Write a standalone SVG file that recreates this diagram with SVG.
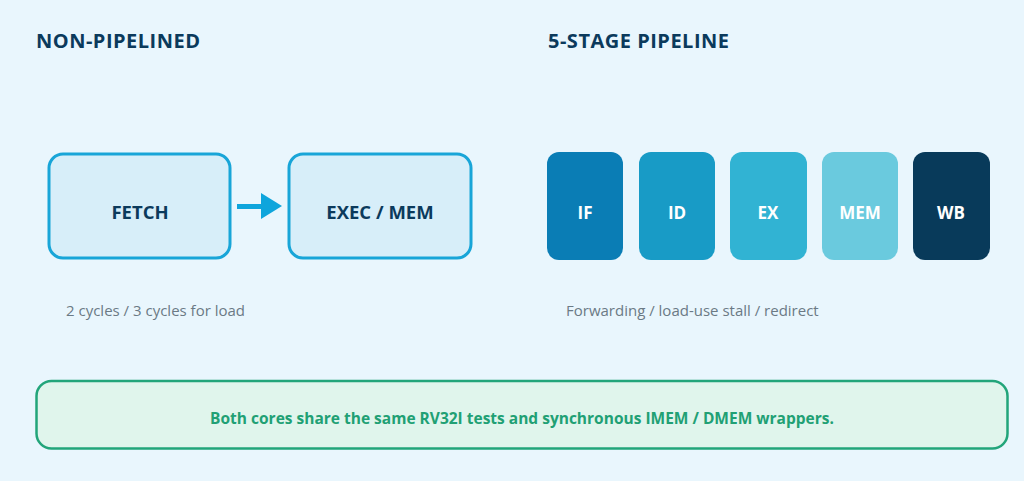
<svg xmlns="http://www.w3.org/2000/svg" width="1024" height="481" viewBox="0 0 1024 481">
<style>
.title{font-family:"Open Sans","Liberation Sans",sans-serif;font-weight:700;font-size:20px;letter-spacing:0.5px;fill:#0b3a5c}
.box{fill:#d7eef9;stroke:#18a5d8;stroke-width:3}
.lbl{font-family:"Open Sans","Liberation Sans",sans-serif;font-weight:700;font-size:18.5px;fill:#0b3a5c;text-anchor:middle}
.stg{font-family:"Open Sans","Liberation Sans",sans-serif;font-weight:700;font-size:17px;fill:#ffffff;text-anchor:middle}
.cap{font-family:"Open Sans","Liberation Sans",sans-serif;font-size:15px;fill:#6b7a85}
.note{font-family:"Open Sans","Liberation Sans",sans-serif;font-weight:700;font-size:15.5px;fill:#21a074;text-anchor:middle}
</style>
<rect width="1024" height="481" fill="#e9f6fd"/>
<text class="title" x="36" y="48">NON-PIPELINED</text>
<text class="title" x="548" y="48">5-STAGE PIPELINE</text>
<g id="fetch"><rect class="box" x="49" y="154" width="181" height="104" rx="14"/><text class="lbl" x="140" y="219">FETCH</text></g>
<g id="exec"><rect class="box" x="289" y="154" width="182" height="104" rx="14"/><text class="lbl" x="380" y="219">EXEC / MEM</text></g>
<g id="connectors"><line x1="237" y1="206.5" x2="261" y2="206.5" stroke="#0ea5dc" stroke-width="5"/><path d="M261,193 L282,206 L261,219 Z" fill="#0ea5dc"/></g>
<g id="if"><rect x="547" y="152" width="76" height="108" rx="12" fill="#0a7db5"/><text class="stg" x="585" y="219">IF</text></g>
<g id="id"><rect x="639" y="152" width="76" height="108" rx="12" fill="#189bc6"/><text class="stg" x="677" y="219">ID</text></g>
<g id="ex"><rect x="730" y="152" width="77" height="108" rx="12" fill="#31b3d3"/><text class="stg" x="768" y="219">EX</text></g>
<g id="mem"><rect x="822" y="152" width="76" height="108" rx="12" fill="#6acade"/><text class="stg" x="860" y="219">MEM</text></g>
<g id="wb"><rect x="913" y="152" width="77" height="108" rx="12" fill="#083a5a"/><text class="stg" x="951" y="219">WB</text></g>
<text class="cap" x="66" y="316">2 cycles / 3 cycles for load</text>
<text class="cap" x="566" y="316">Forwarding / load-use stall / redirect</text>
<g id="note"><rect x="36.5" y="381" width="971" height="67.5" rx="15" fill="#e0f5ec" stroke="#22a57a" stroke-width="2.5"/><text class="note" x="522" y="424">Both cores share the same RV32I tests and synchronous IMEM / DMEM wrappers.</text></g>
</svg>
